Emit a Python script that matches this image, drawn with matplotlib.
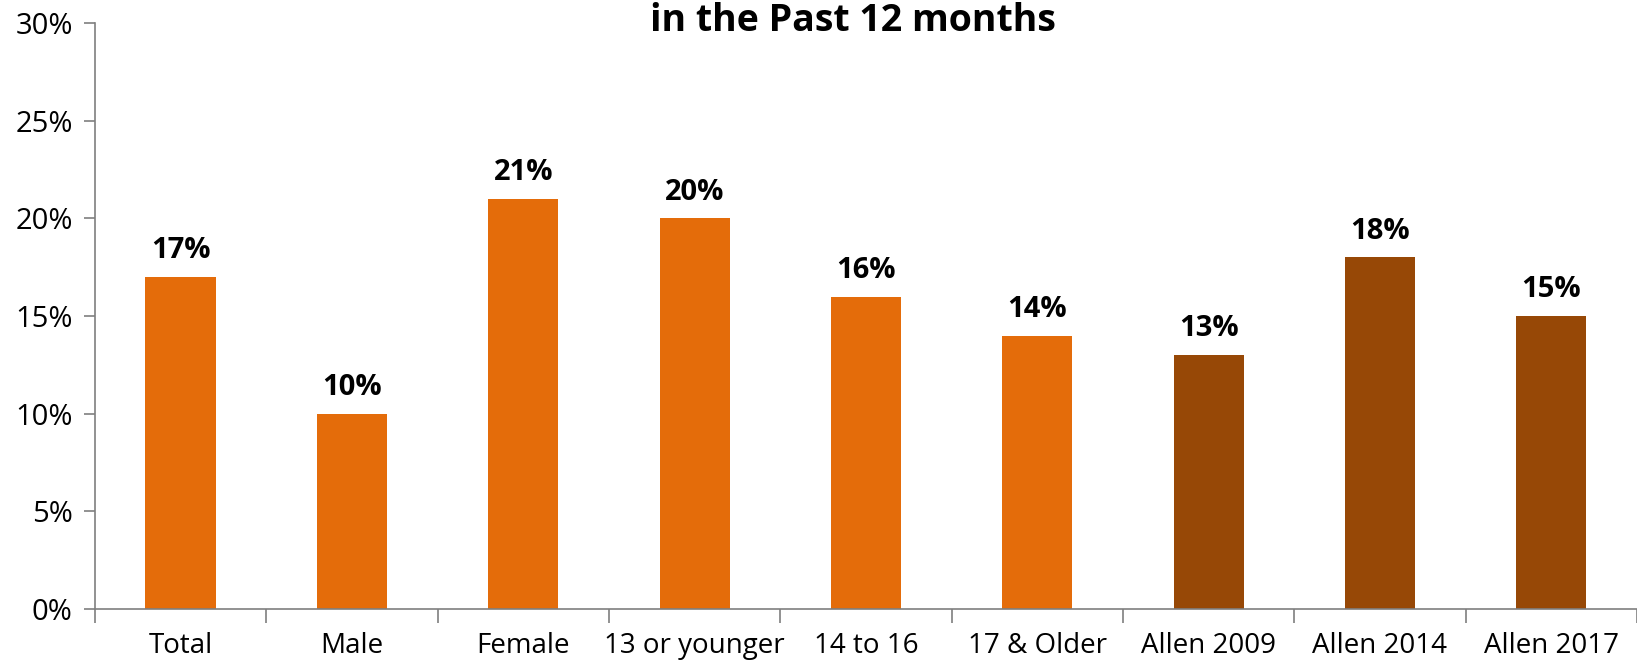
import numpy as np
import matplotlib.pyplot as plt
from matplotlib.ticker import FuncFormatter, FixedLocator

categories = ['Total', 'Male', 'Female', '13 or younger', '14 to 16',
              '17 & Older', 'Allen 2009', 'Allen 2014', 'Allen 2017']
values = [17, 10, 21, 20, 16, 14, 13, 18, 15]
groups = ['survey'] * 6 + ['allen'] * 3

colors = {'survey': '#E46C0A', 'allen': '#974806'}

plt.rcParams['font.family'] = ['Open Sans', 'DejaVu Sans']

fig = plt.figure(figsize=(16.37, 6.64), dpi=100)
ax = fig.add_axes([0.058, 0.083, 0.942, 0.882])

x = np.arange(len(categories))
bars = ax.bar(x, values, width=0.41, color=[colors[g] for g in groups], zorder=2)

for xi, v in zip(x, values):
    ax.text(xi, v + 0.6, '{}%'.format(v), ha='center', va='bottom',
            fontsize=21, fontweight='bold')

ax.set_xlim(-0.5, len(categories) - 0.5)
ax.set_ylim(0, 30)
ax.set_yticks(np.arange(0, 31, 5))
ax.yaxis.set_major_formatter(FuncFormatter(lambda v, p: '{:.0f}%'.format(v)))

# category labels centred, tick marks on the boundaries
ax.set_xticks(x)
ax.set_xticklabels(categories, fontsize=20)
ax.tick_params(axis='x', which='major', length=0, pad=17)
ax.xaxis.set_minor_locator(FixedLocator(np.arange(-0.5, len(categories), 1)))
ax.tick_params(axis='x', which='minor', length=10, width=1.2, color='#7f7f7f', direction='out')
ax.tick_params(axis='y', labelsize=21, length=8, width=1.2, color='#7f7f7f', pad=8)

for s in ['top', 'right']:
    ax.spines[s].set_visible(False)
for s in ['left', 'bottom']:
    ax.spines[s].set_color('#7f7f7f')
    ax.spines[s].set_linewidth(1.2)

fig.text(0.521, 1 - 21 / 664, 'in the Past 12 months', ha='center', va='center',
         fontsize=27, fontweight='bold')

fig.savefig('out.png', dpi=100)
